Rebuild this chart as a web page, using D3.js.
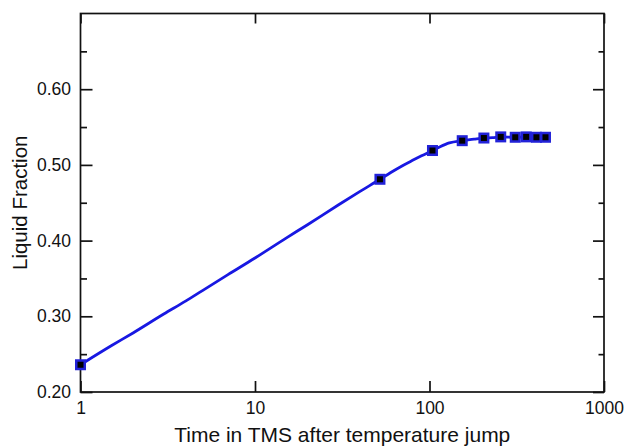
<!DOCTYPE html>
<html><head><meta charset="utf-8">
<script src="https://cdn.jsdelivr.net/npm/d3@7"></script>
<style>
html,body{margin:0;padding:0;background:#fff;}
svg{display:block;font-family:"Liberation Sans",Arial,Helvetica,sans-serif;}
</style></head>
<body>
<svg id="chart" width="627" height="446"></svg>
<script>
// Continuous curve (time in TMS, liquid fraction)
const lineTime  = [1, 1.5, 2, 3, 4, 5, 7, 10, 15, 20, 30, 40, 52, 60, 70, 80, 90, 104, 115, 130, 154, 180, 205, 230, 256, 310, 358, 410, 462];
const lineValue = [0.236, 0.261, 0.278, 0.303, 0.320, 0.334, 0.355, 0.377, 0.403, 0.421, 0.447, 0.465, 0.481, 0.490, 0.499, 0.506, 0.512, 0.519, 0.524, 0.529, 0.532, 0.534, 0.5355, 0.536, 0.537, 0.5365, 0.537, 0.5365, 0.5365];
// Square markers
const markerTime  = [1, 52, 104, 154, 205, 256, 310, 358, 410, 462];
const markerValue = [0.236, 0.481, 0.519, 0.532, 0.5355, 0.537, 0.5365, 0.537, 0.5365, 0.5365];
// Ticks
const xTicks = [1, 10, 100, 1000];
const xTickLabels = ["1", "10", "100", "1000"];
const yMajor = [0.20, 0.30, 0.40, 0.50, 0.60];
const yMinor = [0.25, 0.35, 0.45, 0.55, 0.65];

const svg = d3.select("#chart");
const L = 80.5, R = 604, T = 13.5, B = 392;
const x = d3.scaleLog().domain([1, 1000]).range([L, R]);
const y = d3.scaleLinear().domain([0.20, 0.70]).range([B, T]);

const g = svg.append("g");

// frame
g.append("rect").attr("x", L).attr("y", T).attr("width", R - L).attr("height", B - T)
  .attr("fill", "none").attr("stroke", "#111").attr("stroke-width", 1.7);

const axBottom = g.append("g").attr("transform", `translate(0,${B})`)
  .call(d3.axisBottom(x).tickValues(xTicks).tickFormat((d, i) => xTickLabels[i]).tickSizeInner(-11).tickSizeOuter(0).tickPadding(10));
const axTop = g.append("g").attr("transform", `translate(0,${T})`)
  .call(d3.axisTop(x).tickValues(xTicks).tickFormat("").tickSizeInner(-10).tickSizeOuter(0));
const axLeft = g.append("g").attr("transform", `translate(${L},0)`)
  .call(d3.axisLeft(y).tickValues(yMajor).tickFormat(d3.format(".2f")).tickSizeInner(-12).tickSizeOuter(0).tickPadding(9.5));
const axLeftMinor = g.append("g").attr("transform", `translate(${L},0)`)
  .call(d3.axisLeft(y).tickValues(yMinor).tickFormat("").tickSizeInner(-6.5).tickSizeOuter(0));
const axRight = g.append("g").attr("transform", `translate(${R},0)`)
  .call(d3.axisRight(y).tickValues(yMajor).tickFormat("").tickSizeInner(-11).tickSizeOuter(0));
const axRightMinor = g.append("g").attr("transform", `translate(${R},0)`)
  .call(d3.axisRight(y).tickValues(yMinor).tickFormat("").tickSizeInner(-5.5).tickSizeOuter(0));

[axBottom, axTop, axLeft, axLeftMinor, axRight, axRightMinor].forEach(a => {
  a.select(".domain").remove();
  a.selectAll(".tick line").attr("stroke", "#111").attr("stroke-width", 1.7);
  a.selectAll(".tick text").attr("fill", "#111").attr("font-size", 17.5)
    .attr("font-family", "'Liberation Sans',Arial,Helvetica,sans-serif");
});

// data line
const line = d3.line().x((d, i) => x(lineTime[i])).y((d, i) => y(lineValue[i])).curve(d3.curveMonotoneX);
g.append("path").datum(lineValue).attr("d", line)
  .attr("fill", "none").attr("stroke", "#1818e2").attr("stroke-width", 2.8).attr("stroke-linejoin", "round");

// markers
const ms = g.append("g").selectAll("g").data(markerValue).join("g")
  .attr("transform", (d, i) => `translate(${x(markerTime[i])},${y(d)})`);
ms.append("rect").attr("x", -5.5).attr("y", -5.5).attr("width", 11).attr("height", 11).attr("fill", "#2222d8");
ms.append("rect").attr("x", -3).attr("y", -3).attr("width", 6).attr("height", 6).attr("fill", "#000");

// axis titles
svg.append("text").attr("x", (L + R) / 2).attr("y", 441.5).attr("text-anchor", "middle")
  .attr("font-size", 21).attr("fill", "#111").text("Time in TMS after temperature jump");
svg.append("text").attr("transform", `translate(26.5,${(T + B) / 2}) rotate(-90)`).attr("text-anchor", "middle")
  .attr("font-size", 20.5).attr("fill", "#111").text("Liquid Fraction");
</script>
</body></html>
